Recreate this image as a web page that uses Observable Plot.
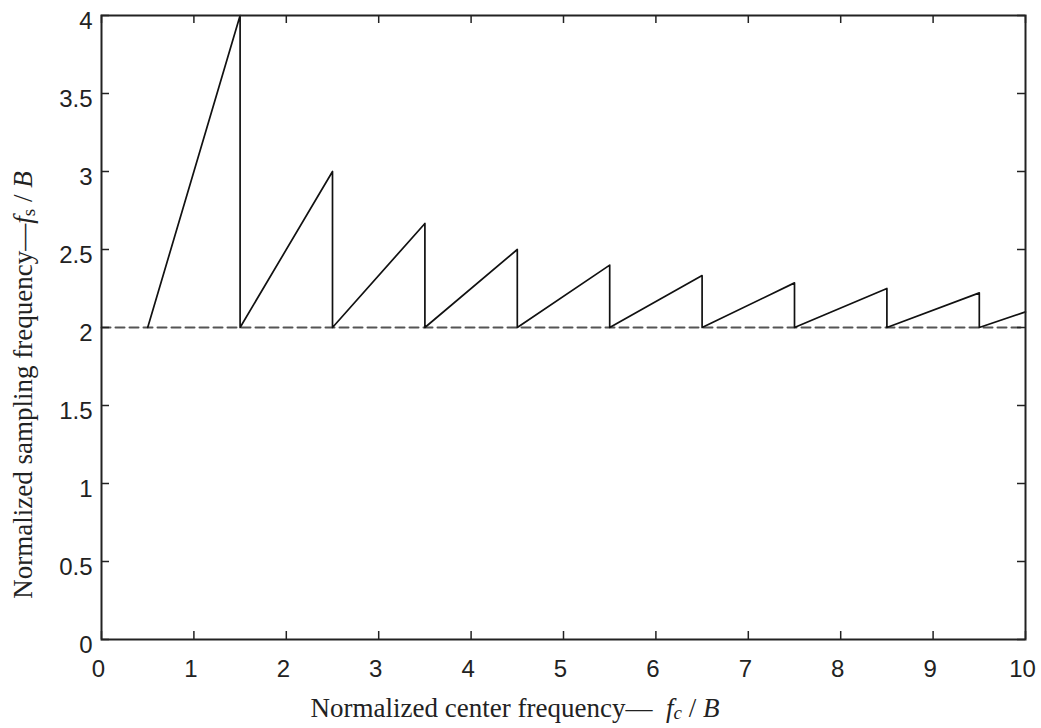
<!DOCTYPE html>
<html><head><meta charset="utf-8">
<script src="https://cdn.jsdelivr.net/npm/d3@7"></script>
<script src="https://cdn.jsdelivr.net/npm/@observablehq/plot@0.6"></script>
<style>
body{margin:0;background:#fff}
#chart{position:relative;width:1041px;height:728px}
</style>
</head><body><div id="chart"></div>
<script>
// Sawtooth vertices (normalized center frequency, normalized sampling frequency)
const centerFreq = [0.5, 1.5, 1.5, 2.5, 2.5, 3.5, 3.5, 4.5, 4.5, 5.5, 5.5, 6.5, 6.5, 7.5, 7.5, 8.5, 8.5, 9.5, 9.5, 10];
const samplingFreq = [2, 4, 2, 3, 2, 2.667, 2, 2.5, 2, 2.4, 2, 2.333, 2, 2.286, 2, 2.25, 2, 2.222, 2, 2.1];
// Dashed reference line (Nyquist floor)
const floorX = [0, 10];
const floorY = [2, 2];
// Tick values
const xTicks = [0, 1, 2, 3, 4, 5, 6, 7, 8, 9, 10];
const yTicks = [0, 0.5, 1, 1.5, 2, 2.5, 3, 3.5, 4];

const W = 1041, H = 728;
const mL = 101, mR = 16, mT = 15, mB = 89;
const pw = W - mL - mR, ph = H - mT - mB;
const tick = 8;

const saw = centerFreq.map((x, i) => ({x, y: samplingFreq[i]}));
const floor = floorX.map((x, i) => ({x, y: floorY[i]}));

const plot = Plot.plot({
  width: W, height: H,
  marginLeft: mL, marginRight: mR, marginTop: mT, marginBottom: mB,
  x: {domain: [0, 10]},
  y: {domain: [0, 4]},
  style: {fontFamily: "'Liberation Sans', Arial, sans-serif", fontSize: "24px", color: "#222", background: "#fff"},
  marks: [
    Plot.line(floor, {x: "x", y: "y", stroke: "#555", strokeWidth: 2, strokeDasharray: "9,5"}),
    Plot.line(saw, {x: "x", y: "y", stroke: "#111", strokeWidth: 1.7}),
    Plot.frame({stroke: "#222", strokeWidth: 2}),
    Plot.tickX(xTicks, {x: d => d, insetTop: ph - tick, stroke: "#222", strokeWidth: 1.5}),
    Plot.tickX(xTicks, {x: d => d, insetBottom: ph - tick, stroke: "#222", strokeWidth: 1.5}),
    Plot.tickY(yTicks, {y: d => d, insetRight: pw - tick, stroke: "#222", strokeWidth: 1.5}),
    Plot.tickY(yTicks, {y: d => d, insetLeft: pw - tick, stroke: "#222", strokeWidth: 1.5}),
    Plot.axisX(xTicks, {anchor: "bottom", tickSize: 0, tickPadding: 20, dx: -3, label: null, fill: "#222"}),
    Plot.axisY(yTicks, {anchor: "left", tickSize: 0, tickPadding: 9, dy: 6, label: null, fill: "#222", tickFormat: d => String(d)})
  ]
});
document.getElementById("chart").appendChild(plot);

const svg = d3.select(plot);
const serif = "'Liberation Serif', 'Times New Roman', serif";

const xl = svg.append("text")
  .attr("x", 515).attr("y", 717)
  .attr("text-anchor", "middle")
  .attr("font-family", serif).attr("font-size", 27).attr("fill", "#222");
xl.append("tspan").text("Normalized center frequency\u2014  ");
xl.append("tspan").attr("font-style", "italic").text("f");
xl.append("tspan").attr("font-style", "italic").attr("font-size", 19).attr("dy", 2).text("c");
xl.append("tspan").attr("dy", -2).text(" / ");
xl.append("tspan").attr("font-style", "italic").text("B");

const yl = svg.append("text")
  .attr("transform", "translate(32,385) rotate(-90)")
  .attr("text-anchor", "middle")
  .attr("font-family", serif).attr("font-size", 27).attr("fill", "#222");
yl.append("tspan").text("Normalized sampling frequency\u2014");
yl.append("tspan").attr("font-style", "italic").text("f");
yl.append("tspan").attr("font-size", 19).attr("dy", 3).text("s");
yl.append("tspan").attr("dy", -3).text(" / ");
yl.append("tspan").attr("font-style", "italic").text("B");
</script>
</body></html>
